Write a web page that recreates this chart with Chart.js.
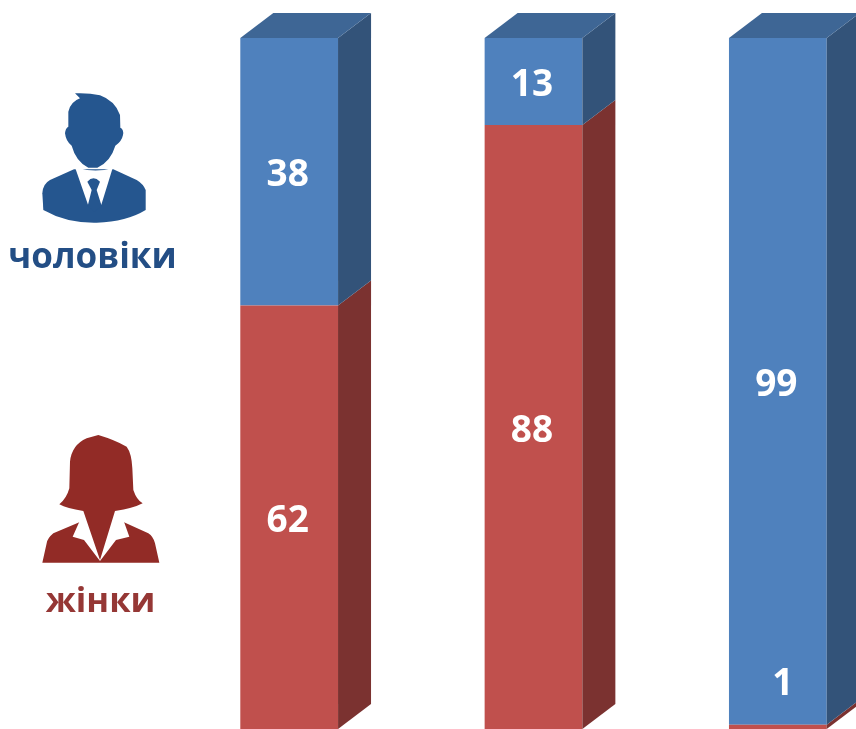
<!DOCTYPE html>
<html lang="uk">
<head>
<meta charset="utf-8">
<title>чоловіки і жінки</title>
<script src="https://cdn.jsdelivr.net/npm/chart.js@4"></script>
<style>
html,body{margin:0;padding:0;background:#fff;overflow:hidden}
#wrap{position:relative;width:856px;height:729px;overflow:hidden}
canvas{position:absolute;left:0;top:0}
svg{position:absolute}
.lbl{position:absolute;font-family:"Open Sans",sans-serif;font-weight:700;white-space:nowrap;line-height:1;transform:translateX(-50%)}
</style>
</head>
<body>
<div id="wrap">
<canvas id="c" width="900" height="729"></canvas>

<svg style="left:0;top:80px" width="190" height="200" viewBox="0 0 570 600">
  <path fill="#25568f" d="M225,40 Q265,38 300,46 Q345,62 360,105 L361,143 Q372,148 369,165 Q365,185 346,197 Q332,245 292,263 L265,263 Q228,245 215,197 Q198,185 195,160 Q196,145 205,140 L205,95 Q212,65 240,55 Z"/>
  <path fill="#25568f" d="M222,268 L150,300 Q128,312 127,340 L130,390 Q200,430 290,428 Q380,425 437,390 L437,330 Q430,312 410,300 L340,268 Z"/>
  <path fill="#fff" d="M225,262 L264,374 L304,374 L338,264 Q285,280 225,262 Z"/>
  <path fill="#25568f" d="M262,305 Q280,285 300,305 L290,330 L305,378 L283,395 L263,378 L275,330 Z"/>
</svg>
<div class="lbl" style="left:92.5px;top:237px;font-size:35px;color:#234e85">чоловіки</div>

<svg style="left:20px;top:425px" width="160" height="200" viewBox="0 0 480 600">
  <path fill="#922b26" d="M178,292 L100,325 Q82,340 80,355 L67,413 L418,413 L405,355 Q400,335 385,325 L312,292 Z"/>
  <path fill="#fff" d="M178,290 L158,335 L192,345 L240,408 L288,345 L328,335 L312,290 L240,250 Z"/>
  <path fill="#922b26" d="M235,30 Q285,45 320,65 Q335,85 337,130 L340,195 Q350,225 368,235 Q340,250 285,258 L240,405 L190,258 Q140,250 118,238 Q140,220 148,190 L150,110 Q155,60 200,40 Z"/>
</svg>
<div class="lbl" style="left:100.5px;top:582px;font-size:34.5px;color:#953735">жінки</div>
</div>

<script>
const categories = ["A", "B", "C"];
const womenValues = [61.3, 87.4, 0.6];
const menValues = [38.7, 12.6, 99.4];
const womenLabels = ["62", "88", "1"];
const menLabels = ["38", "13", "99"];

const BLUE = "#4f81bd", BLUE_SIDE = "#335379", BLUE_TOP = "#3e6695";
const RED = "#c0504d", RED_SIDE = "#7b3230";
const DX = 33, DY = -25;

function poly(ctx, pts, fill) {
  ctx.beginPath();
  pts.forEach((p, i) => i ? ctx.lineTo(p[0], p[1]) : ctx.moveTo(p[0], p[1]));
  ctx.closePath();
  ctx.fillStyle = fill;
  ctx.fill();
}

const extrude = {
  id: "extrude",
  afterDatasetsDraw(chart) {
    const ctx = chart.ctx;
    ctx.save();
    const sideColours = [RED_SIDE, BLUE_SIDE];
    chart.data.datasets.forEach((ds, d) => {
      chart.getDatasetMeta(d).data.forEach(bar => {
        const r = bar.x + bar.width / 2, l = bar.x - bar.width / 2;
        poly(ctx, [[r, bar.y], [r + DX, bar.y + DY], [r + DX, bar.base + DY], [r, bar.base]], sideColours[d]);
        if (d === 1) {
          poly(ctx, [[l, bar.y], [l + DX, bar.y + DY], [r + DX, bar.y + DY], [r, bar.y]], BLUE_TOP);
        }
      });
    });
    ctx.fillStyle = "#fff";
    ctx.font = "700 37px 'Open Sans', sans-serif";
    ctx.textAlign = "center";
    ctx.textBaseline = "middle";
    const texts = [womenLabels, menLabels];
    chart.data.datasets.forEach((ds, d) => {
      chart.getDatasetMeta(d).data.forEach((bar, i) => {
        const h = Math.abs(bar.base - bar.y);
        const small = h < 20;
        const y = small ? bar.y - 40 : (bar.y + bar.base) / 2 + 4;
        ctx.fillText(texts[d][i], small ? bar.x + 5 : bar.x - 1.5, y);
      });
    });
    ctx.restore();
  }
};

new Chart(document.getElementById("c"), {
  type: "bar",
  data: {
    labels: categories,
    datasets: [
      { label: "жінки", data: womenValues, backgroundColor: RED, stack: "s" },
      { label: "чоловіки", data: menValues, backgroundColor: BLUE, stack: "s" }
    ]
  },
  options: {
    responsive: false,
    animation: false,
    devicePixelRatio: 1,
    layout: { padding: { left: 167, top: 38, right: 0, bottom: 0 } },
    datasets: { bar: { barPercentage: 0.4, categoryPercentage: 1 } },
    plugins: { legend: { display: false }, tooltip: { enabled: false } },
    scales: {
      x: { stacked: true, display: false },
      y: { stacked: true, display: false, min: 0, max: 100 }
    }
  },
  plugins: [extrude]
});
</script>
</body>
</html>
